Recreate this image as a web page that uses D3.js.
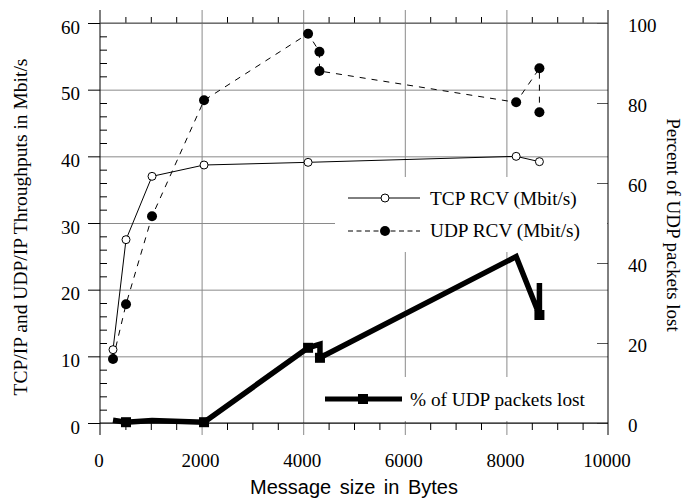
<!DOCTYPE html>
<html>
<head>
<meta charset="utf-8">
<script src="https://cdn.jsdelivr.net/npm/d3@7"></script>
<style>
body { margin: 0; background: #fff; }
svg { display: block; }
</style>
</head>
<body>
<div id="chart"></div>
<script>
// TCP throughput
var tcpSizes = [256, 512, 1024, 2048, 4096, 8192, 8650]
var tcpRcv = [11, 27.5, 37, 38.7, 39.1, 40, 39.2]

// UDP throughput
var udpSizes = [256, 512, 1024, 2048, 4096, 4320, 4320, 8192, 8650, 8650]
var udpRcv = [9.6, 17.8, 31, 48.4, 58.4, 55.7, 52.8, 48.1, 53.2, 46.6]

// UDP loss, in percent (right axis)
var lossSizes = [256, 512, 1024, 2048, 4096, 4330, 4330, 8192, 8650, 8650]
var udpLoss = [0.7, 0.2, 0.6, 0.2, 18.8, 19.7, 16.3, 41.6, 27, 35]
var lossMarked = [0, 1, 0, 1, 1, 0, 1, 0, 1, 0]

var xTicks = [0, 2000, 4000, 6000, 8000, 10000]
var yTicks = [0, 10, 20, 30, 40, 50, 60]
var y2Ticks = [0, 20, 40, 60, 80, 100]
var legendLabels = ['TCP RCV (Mbit/s)', 'UDP RCV (Mbit/s)', '% of UDP packets lost']

var width = 683, height = 498
var serif = '"Liberation Serif", "Times New Roman", serif'
var grey = '#8a8a8a'

var svg = d3.select('#chart')
    .append('svg')
    .attr('width', width)
    .attr('height', height)

var x = d3.scaleLinear().domain([0, 10000]).range([100, 608])
var y = d3.scaleLinear().domain([0, 60]).range([423, 23])
var y2 = d3.scaleLinear().domain([0, 100]).range([423, 23])

function clean(g) {
    g.select('.domain').remove()
    g.attr('font-family', null).attr('font-size', null)
}

// grid
svg.append('g')
    .attr('transform', 'translate(100,0)')
    .call(d3.axisLeft(y).tickValues(yTicks).tickSize(-508).tickFormat(''))
    .call(clean)
    .selectAll('line').attr('stroke', grey)

svg.append('g')
    .attr('transform', 'translate(0,435)')
    .call(d3.axisBottom(x).tickValues([2000, 4000, 6000, 8000]).tickSize(-425).tickFormat(''))
    .call(clean)
    .selectAll('line').attr('stroke', grey)

// legend boxes hide the grid
svg.append('rect').attr('x', 335).attr('y', 177).attr('width', 272).attr('height', 75).attr('fill', '#fff')
svg.append('rect').attr('x', 318).attr('y', 377).attr('width', 289).attr('height', 44).attr('fill', '#fff')

// left axis
var minorY = d3.range(0, 61, 2).filter(function(d) { return d % 10 != 0 })
svg.append('g')
    .attr('transform', 'translate(100,0)')
    .call(d3.axisLeft(y).tickValues(minorY).tickSize(-7).tickFormat(''))
    .call(clean)

var yAxis = svg.append('g')
    .attr('transform', 'translate(100,0)')
    .call(d3.axisLeft(y).tickValues(yTicks).tickSize(12).tickPadding(8))
    .call(clean)
yAxis.selectAll('text')
    .attr('dy', null)
    .attr('y', 10)
    .style('font-family', serif)
    .style('font-size', '19px')

// right axis
var y2Axis = svg.append('g')
    .attr('transform', 'translate(608,0)')
    .call(d3.axisRight(y2).tickValues(y2Ticks).tickSize(-11).tickPadding(20))
    .call(clean)
y2Axis.selectAll('line').attr('stroke', '#555')
y2Axis.selectAll('text')
    .attr('dy', null)
    .attr('y', 8.5)
    .style('font-family', serif)
    .style('font-size', '19px')

// bottom / top axes
var minorX = d3.range(0, 10001, 500).filter(function(d) { return d % 2000 != 0 })
svg.append('g')
    .attr('transform', 'translate(0,423)')
    .call(d3.axisBottom(x).tickValues(minorX).tickSize(7).tickFormat(''))
    .call(clean)
svg.append('g')
    .attr('transform', 'translate(0,23)')
    .call(d3.axisTop(x).tickValues(minorX).tickSize(6).tickFormat(''))
    .call(clean)

var xAxis = svg.append('g')
    .attr('transform', 'translate(0,423)')
    .call(d3.axisBottom(x).tickValues(xTicks).tickSize(12).tickPadding(8).tickFormat(d3.format('d')))
    .call(clean)
xAxis.selectAll('line').remove()
xAxis.selectAll('text')
    .attr('dy', null)
    .attr('y', 44)
    .attr('x', -1.5)
    .style('font-family', serif)
    .style('font-size', '19px')

svg.append('line').attr('x1', 100).attr('x2', 608).attr('y1', 423).attr('y2', 423).attr('stroke', '#000')
svg.append('line').attr('x1', 100).attr('x2', 100).attr('y1', 10).attr('y2', 435).attr('stroke', '#000')
svg.append('line').attr('x1', 608).attr('x2', 608).attr('y1', 10).attr('y2', 435).attr('stroke', '#000')
svg.append('line').attr('x1', 100).attr('x2', 608).attr('y1', 23).attr('y2', 23).attr('stroke', '#555')

// axis titles
svg.append('text')
    .attr('transform', 'translate(27,227) rotate(-90)')
    .attr('text-anchor', 'middle')
    .style('font-family', serif)
    .style('font-size', '19.5px')
    .text('TCP/IP and UDP/IP Throughputs in Mbit/s')

svg.append('text')
    .attr('transform', 'translate(667,225) rotate(90)')
    .attr('text-anchor', 'middle')
    .style('font-family', serif)
    .style('font-size', '19px')
    .text('Percent of UDP packets lost')

svg.append('text')
    .attr('x', 354)
    .attr('y', 494)
    .attr('text-anchor', 'middle')
    .style('font-family', '"Liberation Sans", Arial, sans-serif')
    .style('font-size', '20px')
    .style('word-spacing', '3px')
    .text('Message size in Bytes')

// data
var tcpData = tcpSizes.map(function(s, i) { return [s, tcpRcv[i]] })
var udpData = udpSizes.map(function(s, i) { return [s, udpRcv[i]] })
var lossData = lossSizes.map(function(s, i) { return [s, udpLoss[i], lossMarked[i]] })

var lineY = d3.line().x(function(d) { return x(d[0]) }).y(function(d) { return y(d[1]) })
var lineY2 = d3.line().x(function(d) { return x(d[0]) }).y(function(d) { return y2(d[1]) })

svg.append('path')
    .datum(lossData)
    .attr('d', lineY2)
    .attr('fill', 'none')
    .attr('stroke', '#000')
    .attr('stroke-width', 5.5)
    .attr('stroke-linejoin', 'miter')

svg.selectAll('rect.loss')
    .data(lossData.filter(function(d) { return d[2] }))
    .enter()
    .append('rect')
    .attr('class', 'loss')
    .attr('x', function(d) { return x(d[0]) - 5 })
    .attr('y', function(d) { return y2(d[1]) - 5 })
    .attr('width', 10)
    .attr('height', 10)
    .attr('fill', '#000')

svg.append('path')
    .datum(udpData)
    .attr('d', lineY)
    .attr('fill', 'none')
    .attr('stroke', '#000')
    .attr('stroke-width', 1)
    .attr('stroke-dasharray', '6,6')

svg.append('path')
    .datum(tcpData)
    .attr('d', lineY)
    .attr('fill', 'none')
    .attr('stroke', '#000')
    .attr('stroke-width', 1)

svg.selectAll('circle.udp')
    .data(udpData)
    .enter()
    .append('circle')
    .attr('class', 'udp')
    .attr('cx', function(d) { return x(d[0]) })
    .attr('cy', function(d) { return y(d[1]) })
    .attr('r', 5)
    .attr('fill', '#000')

svg.selectAll('circle.tcp')
    .data(tcpData)
    .enter()
    .append('circle')
    .attr('class', 'tcp')
    .attr('cx', function(d) { return x(d[0]) })
    .attr('cy', function(d) { return y(d[1]) })
    .attr('r', 4)
    .attr('fill', '#fff')
    .attr('stroke', '#000')

// legend
var leg = svg.append('g').style('font-family', serif).style('font-size', '19.3px')

leg.append('line').attr('x1', 348).attr('x2', 420).attr('y1', 198).attr('y2', 198).attr('stroke', '#000')
leg.append('circle').attr('cx', 385).attr('cy', 198).attr('r', 4).attr('fill', '#fff').attr('stroke', '#000')
leg.append('text').attr('x', 430).attr('y', 204.5).text(legendLabels[0])

leg.append('line').attr('x1', 348).attr('x2', 420).attr('y1', 231).attr('y2', 231)
    .attr('stroke', '#000').attr('stroke-dasharray', '5,3.5')
leg.append('circle').attr('cx', 385).attr('cy', 231).attr('r', 5).attr('fill', '#000')
leg.append('text').attr('x', 430).attr('y', 237).text(legendLabels[1])

leg.append('line').attr('x1', 325).attr('x2', 402).attr('y1', 399).attr('y2', 399)
    .attr('stroke', '#000').attr('stroke-width', 5)
leg.append('rect').attr('x', 358).attr('y', 394).attr('width', 10).attr('height', 10).attr('fill', '#000')
leg.append('text').attr('x', 410).attr('y', 405.5).text(legendLabels[2])
</script>
</body>
</html>
